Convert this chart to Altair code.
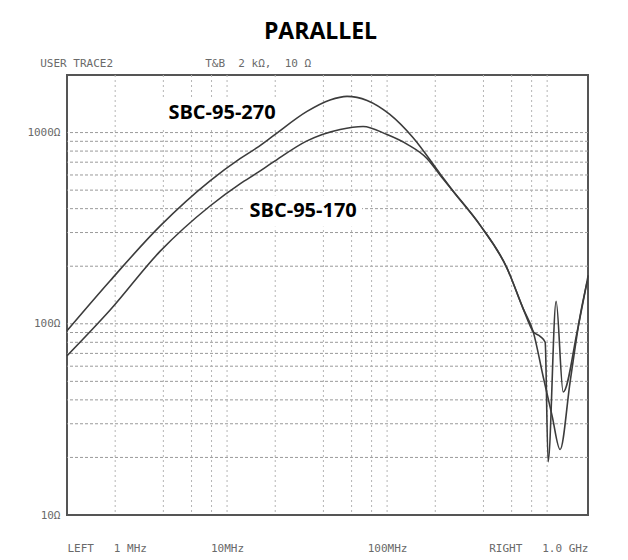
import altair as alt
import pandas as pd

# ---- data ----
freq_270 = [1, 1.86, 3.81, 7.83, 12.05, 15.4, 19.4, 31.6, 44, 56.2, 75, 104, 145, 214, 258, 381, 562, 708, 818, 904, 972, 1014, 1138, 1259, 1540, 1804]
z_270 = [92, 168, 324, 559, 730, 834, 960, 1290, 1480, 1546, 1472, 1244, 942, 610, 495, 328, 195, 120, 91, 86, 80, 19, 131, 44, 91, 179]

freq_170 = [1, 1.86, 3.81, 7.83, 12.05, 15.4, 19.4, 31.6, 50.9, 70.8, 100, 133, 178, 214, 258, 381, 562, 708, 818, 944, 1074, 1205, 1393, 1607, 1780]
z_170 = [68, 118, 239, 413, 539, 615, 700, 905, 1038, 1076, 976, 870, 730, 600, 495, 328, 195, 120, 91, 53, 33, 22, 50, 110, 166]

grid_freq = [2, 4, 6, 8, 10, 20, 40, 60, 80, 100, 200, 400, 600, 800, 1000]
grid_z = [20, 30, 40, 50, 60, 70, 80, 90, 100, 200, 300, 400, 500, 600, 700, 800, 900, 1000]

label_text = ["SBC-95-270", "SBC-95-170"]
label_freq = [9.3, 29.9]
label_z = [1270, 391]
box_f1 = [3.8, 12.9]
box_f2 = [22.4, 69.7]
box_z1 = [1062, 322]
box_z2 = [1524, 468]

note_text = ["USER TRACE2", "T&B\u00a0\u00a02\u00a0kΩ,\u00a0\u00a010\u00a0Ω"]
note_freq = [0.68, 7.3]
note_z = [2270, 2270]

x_ticks = [1, 10, 100, 1800]
y_ticks = [10, 100, 1000]

# ---- tables ----
curves = pd.concat([
    pd.DataFrame({"f": freq_270, "z": z_270, "s": "SBC-95-270"}),
    pd.DataFrame({"f": freq_170, "z": z_170, "s": "SBC-95-170"}),
])
labels = pd.DataFrame({"t": label_text, "f": label_freq, "z": label_z,
                       "f1": box_f1, "f2": box_f2, "z1": box_z1, "z2": box_z2})
notes = pd.DataFrame({"t": note_text, "f": note_freq, "z": note_z})
hgrid = pd.DataFrame({"z": grid_z})
vgrid = pd.DataFrame({"f": grid_freq})

xs = alt.Scale(type="log", domain=[1, 1800])
ys = alt.Scale(type="log", domain=[10, 2000])
mono = "DejaVu Sans Mono"

x_axis = alt.Axis(
    values=x_ticks, title=None, grid=False, ticks=False, domain=False,
    labelExpr="datum.value <= 1 ? 'LEFT\u00a0\u00a0\u00a01\u00a0MHz' : datum.value <= 10 ? '10MHz' : datum.value <= 100 ? '100MHz' : 'RIGHT\u00a0\u00a0\u00a01.0\u00a0GHz'",
    labelAlign={"condition": [{"test": "datum.value <= 1", "value": "left"},
                              {"test": "datum.value >= 1000", "value": "right"}],
                "value": "center"},
    labelFlush=False, labelOverlap=False, labelBound=False,
    labelFont=mono, labelFontSize=11, labelColor="#6a6a6a", labelPadding=27,
)
y_axis = alt.Axis(
    values=y_ticks, title=None, grid=False, ticks=False, domain=False,
    labelExpr="datum.value + 'Ω'", labelFont=mono, labelFontSize=11,
    labelColor="#6a6a6a", labelPadding=7, labelFlush=False, labelOverlap=False,
)

base_x = alt.X("f:Q", scale=xs, axis=x_axis)
base_y = alt.Y("z:Q", scale=ys, axis=y_axis)

h_rules = alt.Chart(hgrid).mark_rule(color="#9a9a9a", strokeDash=[3, 2], strokeWidth=1).encode(
    y=alt.Y("z:Q", scale=ys, axis=y_axis))
v_rules = alt.Chart(vgrid).mark_rule(color="#b5b5b5", strokeDash=[2, 3], strokeWidth=1).encode(
    x=alt.X("f:Q", scale=xs, axis=x_axis))

boxes = alt.Chart(labels).mark_rect(color="white").encode(
    x=alt.X("f1:Q", scale=xs, axis=x_axis), x2="f2:Q",
    y=alt.Y("z1:Q", scale=ys, axis=y_axis), y2="z2:Q")

lines = alt.Chart(curves).mark_line(color="#3c3c3c", strokeWidth=1.6, interpolate="monotone").encode(
    x=base_x, y=base_y, detail="s:N")

texts = alt.Chart(labels).mark_text(font="Open Sans", fontWeight="bold",
                                    fontSize=20, color="black", baseline="middle", align="center").encode(
    x=base_x, y=base_y, text="t:N")

note_marks = alt.Chart(notes).mark_text(font=mono, fontSize=11, color="#6a6a6a",
                                        baseline="middle", align="left").encode(
    x=base_x, y=base_y, text="t:N")

chart = alt.layer(h_rules, v_rules, boxes, lines, texts, note_marks).properties(
    width=521, height=440,
    title=alt.TitleParams("PARALLEL", font="Open Sans", fontSize=23,
                          fontWeight="bold", color="black", anchor="middle", offset=14, dx=-7),
    autosize=alt.AutoSizeParams(type="none"),
    padding={"left": 59, "top": 67, "right": 30, "bottom": 40},
).configure(
    background="white",
    view=alt.ViewConfig(stroke="#555555", strokeWidth=2),
)

chart.save("out.html", embed_options={"renderer": "svg", "actions": False})
